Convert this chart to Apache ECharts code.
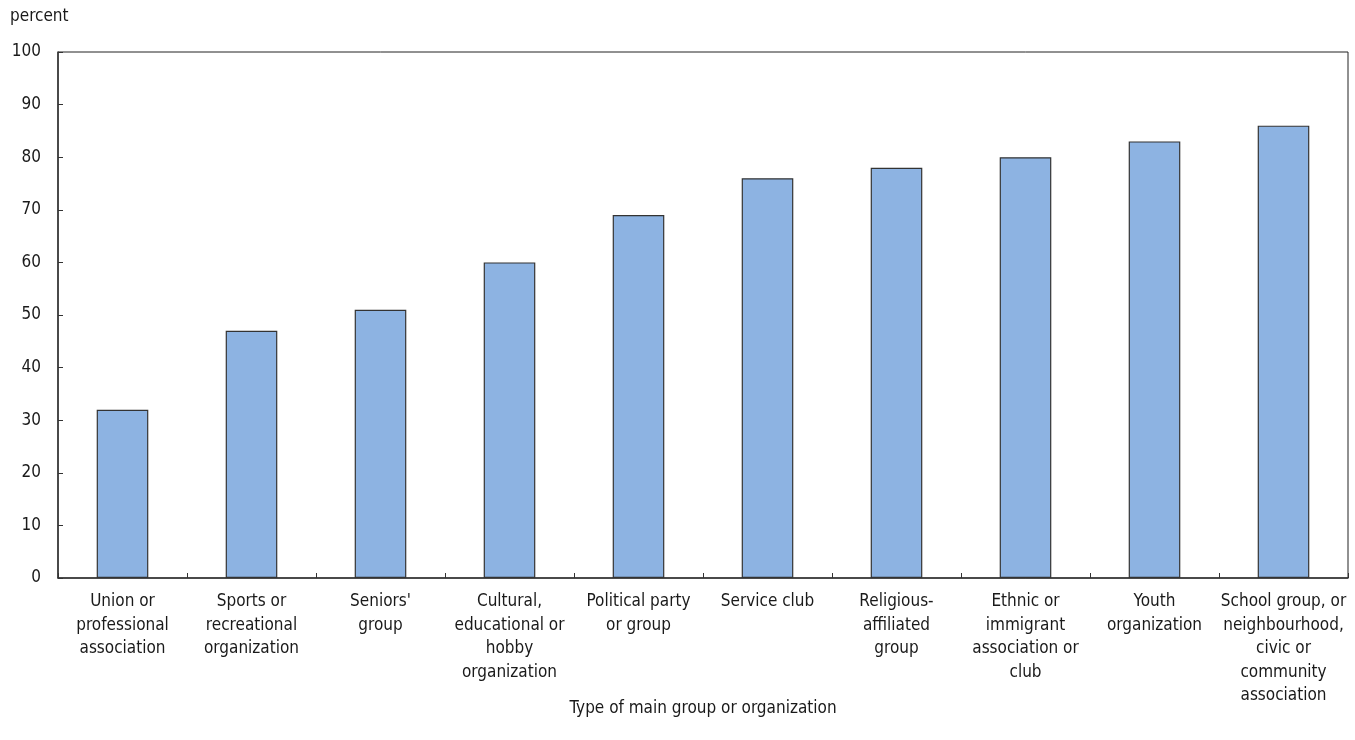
<!DOCTYPE html>
<html>
<head>
<meta charset="utf-8">
<script src="https://cdn.jsdelivr.net/npm/echarts@6/dist/echarts.min.js"></script>
<style>
  html, body { margin: 0; padding: 0; background: #fff; }
  #chart { width: 1355px; height: 740px; }
</style>
</head>
<body>
<div id="chart"></div>
<script>
// categories (line breaks as in the original)
const categories = [
  "Union or\nprofessional\nassociation",
  "Sports or\nrecreational\norganization",
  "Seniors'\ngroup",
  "Cultural,\neducational or\nhobby\norganization",
  "Political party\nor group",
  "Service club",
  "Religious-\naffiliated\ngroup",
  "Ethnic or\nimmigrant\nassociation or\nclub",
  "Youth\norganization",
  "School group, or\nneighbourhood,\ncivic or\ncommunity\nassociation"
];
const values = [32, 47, 51, 60, 69, 76, 78, 80, 83, 86];
const yTicks = [0, 10, 20, 30, 40, 50, 60, 70, 80, 90, 100];

const font = '"Liberation Sans Narrow", "DejaVu Sans Condensed", "Roboto", sans-serif';
const textColor = "#1a1a1a";

const chart = echarts.init(document.getElementById("chart"), null, { renderer: "canvas" });

chart.setOption({
  backgroundColor: "#fff",
  animation: false,
  textStyle: { fontFamily: font },
  grid: {
    left: 58,
    right: 7,
    top: 52,
    bottom: 162,
    show: true,
    borderColor: "#222",
    borderWidth: 1
  },
  graphic: [
    {
      type: "text",
      left: 10,
      top: 8,
      style: { text: "percent", font: "17px " + font, fill: textColor }
    }
  ],
  xAxis: {
    type: "category",
    data: categories,
    name: "Type of main group or organization",
    nameLocation: "middle",
    nameGap: 122,
    nameMoveOverlap: false,
    nameTextStyle: { fontSize: 17, color: textColor, fontFamily: font },
    axisLine: { lineStyle: { color: "#333", width: 1.5 } },
    axisTick: { show: true, inside: true, length: 5, lineStyle: { color: "#333" } },
    axisLabel: {
      interval: 0,
      margin: 12,
      fontSize: 17,
      lineHeight: 23.5,
      color: textColor,
      fontFamily: font,
      align: "center",
      verticalAlign: "top"
    }
  },
  yAxis: {
    type: "value",
    min: yTicks[0],
    max: yTicks[yTicks.length - 1],
    interval: yTicks[1] - yTicks[0],
    axisLine: { show: true, lineStyle: { color: "#333", width: 1.5 } },
    axisTick: { show: true, inside: true, length: 5, lineStyle: { color: "#333" } },
    splitLine: { show: false },
    axisLabel: { margin: 17, fontSize: 17, color: textColor, fontFamily: font }
  },
  series: [
    {
      type: "bar",
      data: values,
      barWidth: "40%",
      itemStyle: {
        color: "#8db3e2",
        borderColor: "#333",
        borderWidth: 1.2
      }
    }
  ]
});
</script>
</body>
</html>
